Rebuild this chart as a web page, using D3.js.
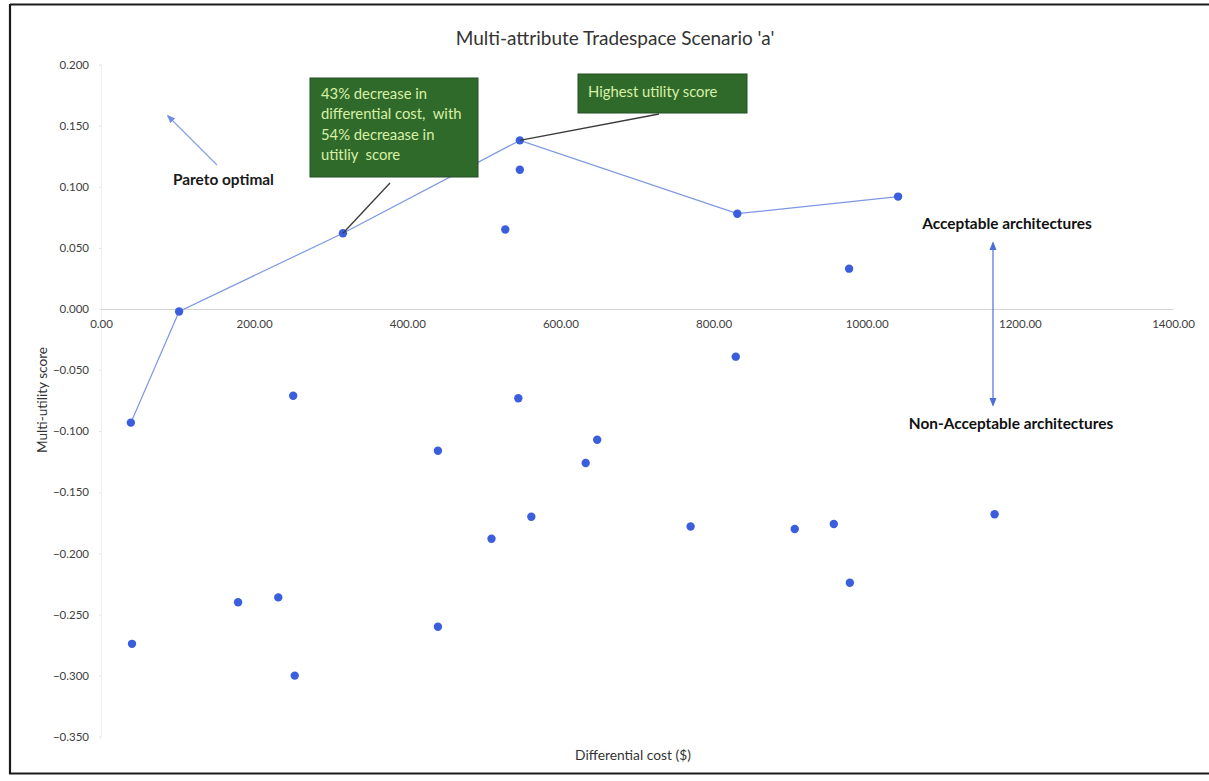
<!DOCTYPE html>
<html>
<head>
<meta charset="utf-8">
<script src="https://cdn.jsdelivr.net/npm/d3@7"></script>
<style>
  html, body { margin: 0; padding: 0; background: #fff; }
  svg { display: block; font-family: Lato, "Open Sans", sans-serif; }
</style>
</head>
<body>
<svg id="chart" width="1209" height="781"></svg>
<script>
// Pareto frontier architectures (ordered by cost)
const paretoCost    = [39, 102, 316, 547, 831, 1041];
const paretoUtility = [-0.093, -0.002, 0.062, 0.138, 0.078, 0.092];

// Remaining (dominated) architectures
const otherCost    = [40.5, 179, 231.5, 251, 253, 440, 440, 510, 528, 545, 547, 562, 633, 648, 770, 829, 906, 957, 977, 978, 1167];
const otherUtility = [-0.274, -0.240, -0.236, -0.071, -0.300, -0.116, -0.260, -0.188, 0.065, -0.073, 0.114, -0.170, -0.126, -0.107, -0.178, -0.039, -0.180, -0.176, 0.033, -0.224, -0.168];

// Axis ticks
const xTicks = [0, 200, 400, 600, 800, 1000, 1200, 1400];
const yTicks = [0.2, 0.15, 0.1, 0.05, 0, -0.05, -0.1, -0.15, -0.2, -0.25, -0.3, -0.35];

// Text
const titleText = "Multi-attribute Tradespace Scenario 'a'";
const xTitle = "Differential cost ($)";
const yTitle = "Multi-utility score";
const callout1Lines = ["43% decrease in", "differential cost,  with", "54% decreaase in", "utitliy  score"];
const callout2Lines = ["Highest utility score"];
const paretoLabel = "Pareto optimal";
const acceptLabel = "Acceptable architectures";
const nonAcceptLabel = "Non-Acceptable architectures";

const svg = d3.select("#chart");
const W = 1209, H = 781;

const x = d3.scaleLinear().domain([0, 1400]).range([101, 1173]);
const y = d3.scaleLinear().domain([-0.35, 0.2]).range([736.7, 64.6]);

const pointColor = "#3b5fdc";
const lineColor = "#7d97e3";
const tickColor = "#404040";

// outer frame
svg.append("line").attr("x1", 10).attr("x2", W).attr("y1", 4.5).attr("y2", 4.5)
  .attr("stroke", "#1a1a1a").attr("stroke-width", 2.2);
svg.append("line").attr("x1", 10).attr("x2", 10).attr("y1", 4).attr("y2", 774)
  .attr("stroke", "#1a1a1a").attr("stroke-width", 2.2);
svg.append("line").attr("x1", 9).attr("x2", W).attr("y1", 773.5).attr("y2", 773.5)
  .attr("stroke", "#1a1a1a").attr("stroke-width", 2.2);

// title
svg.append("text").attr("x", 615).attr("y", 45).attr("text-anchor", "middle")
  .attr("font-size", 19).attr("fill", "#333").text(titleText);

// y axis (labels only, faint ticks)
const yAxis = d3.axisLeft(y).tickValues(yTicks).tickFormat(d3.format(".3f")).tickSize(2).tickPadding(10);
const gy = svg.append("g").attr("transform", `translate(${x(0)},0)`).call(yAxis);
gy.select(".domain").attr("stroke", "#f0f0f0");
gy.selectAll(".tick line").attr("stroke", "#e3e3e3");
gy.selectAll(".tick text").attr("font-size", 11.5).attr("fill", tickColor).attr("font-family", "Lato, sans-serif");

// x axis crossing at zero
const xAxis = d3.axisBottom(x).tickValues(xTicks).tickFormat(d3.format(".2f")).tickSize(0).tickPadding(11);
const gx = svg.append("g").attr("transform", `translate(0,${y(0)})`).call(xAxis);
gx.select(".domain").attr("stroke", "#d4d4d4").attr("stroke-width", 1);
gx.selectAll(".tick text").attr("font-size", 11.5).attr("fill", tickColor).attr("font-family", "Lato, sans-serif");

// axis titles
svg.append("text").attr("x", 633).attr("y", 760).attr("text-anchor", "middle")
  .attr("font-size", 13.8).attr("fill", "#333").text(xTitle);
svg.append("text").attr("transform", "translate(47,400) rotate(-90)").attr("text-anchor", "middle")
  .attr("font-size", 13.6).attr("fill", "#333").text(yTitle);

// arrow markers
const defs = svg.append("defs");
function marker(id, color) {
  defs.append("marker").attr("id", id).attr("viewBox", "0 0 10 10")
    .attr("refX", 8).attr("refY", 5).attr("markerWidth", 7).attr("markerHeight", 7)
    .attr("orient", "auto-start-reverse")
    .append("path").attr("d", "M0,1 L10,5 L0,9 Z").attr("fill", color);
}
marker("arrPareto", "#6f8fe3");
marker("arrAccept", "#4a6fdc");

// Pareto frontier line
const pareto = paretoCost.map((c, i) => ({ c, u: paretoUtility[i] }));
const others = otherCost.map((c, i) => ({ c, u: otherUtility[i] }));
svg.append("path").datum(pareto)
  .attr("d", d3.line().x(d => x(d.c)).y(d => y(d.u)))
  .attr("fill", "none").attr("stroke", lineColor).attr("stroke-width", 1.2);

// points
svg.append("g").selectAll("circle").data(others.concat(pareto)).join("circle")
  .attr("cx", d => x(d.c)).attr("cy", d => y(d.u)).attr("r", 4.2)
  .attr("fill", pointColor);

// Pareto optimal arrow and label
svg.append("line").attr("x1", 217).attr("y1", 165).attr("x2", 168).attr("y2", 116)
  .attr("stroke", "#8aa2e6").attr("stroke-width", 1.2).attr("marker-end", "url(#arrPareto)");
svg.append("text").attr("x", 173).attr("y", 184.5).attr("font-size", 15.4).attr("font-weight", "bold")
  .attr("fill", "#1a1a1a").text(paretoLabel);

// acceptable / non-acceptable arrow
svg.append("line").attr("x1", 993).attr("y1", 243).attr("x2", 993).attr("y2", 405)
  .attr("stroke", "#5a7ddd").attr("stroke-width", 1.3)
  .attr("marker-start", "url(#arrAccept)").attr("marker-end", "url(#arrAccept)");
svg.append("text").attr("x", 1007).attr("y", 228.5).attr("text-anchor", "middle")
  .attr("font-size", 15.4).attr("font-weight", "bold").attr("fill", "#111").text(acceptLabel);
svg.append("text").attr("x", 1011).attr("y", 428.5).attr("text-anchor", "middle")
  .attr("font-size", 15.4).attr("font-weight", "bold").attr("fill", "#111").text(nonAcceptLabel);

// callouts
function callout(box, lines, target, anchorPt) {
  svg.append("line").attr("x1", anchorPt[0]).attr("y1", anchorPt[1])
    .attr("x2", x(target.c)).attr("y2", y(target.u))
    .attr("stroke", "#3a3a3a").attr("stroke-width", 1.3);
  svg.append("rect").attr("x", box.x).attr("y", box.y).attr("width", box.w).attr("height", box.h)
    .attr("fill", "#2f6a2b").attr("stroke", "#244f22").attr("stroke-width", 1);
  const t = svg.append("text").attr("font-size", 14.8).attr("fill", "#d8f0a6");
  lines.forEach((ln, i) => {
    t.append("tspan").attr("x", box.tx).attr("y", box.ty + i * 20.3).attr("xml:space", "preserve").text(ln);
  });
}
callout({ x: 310, y: 78, w: 168, h: 99, tx: 321, ty: 99 }, callout1Lines, pareto[2], [390, 183]);
callout({ x: 578, y: 74, w: 169, h: 39, tx: 588, ty: 97 }, callout2Lines, pareto[3], [659, 114]);
</script>
</body>
</html>
